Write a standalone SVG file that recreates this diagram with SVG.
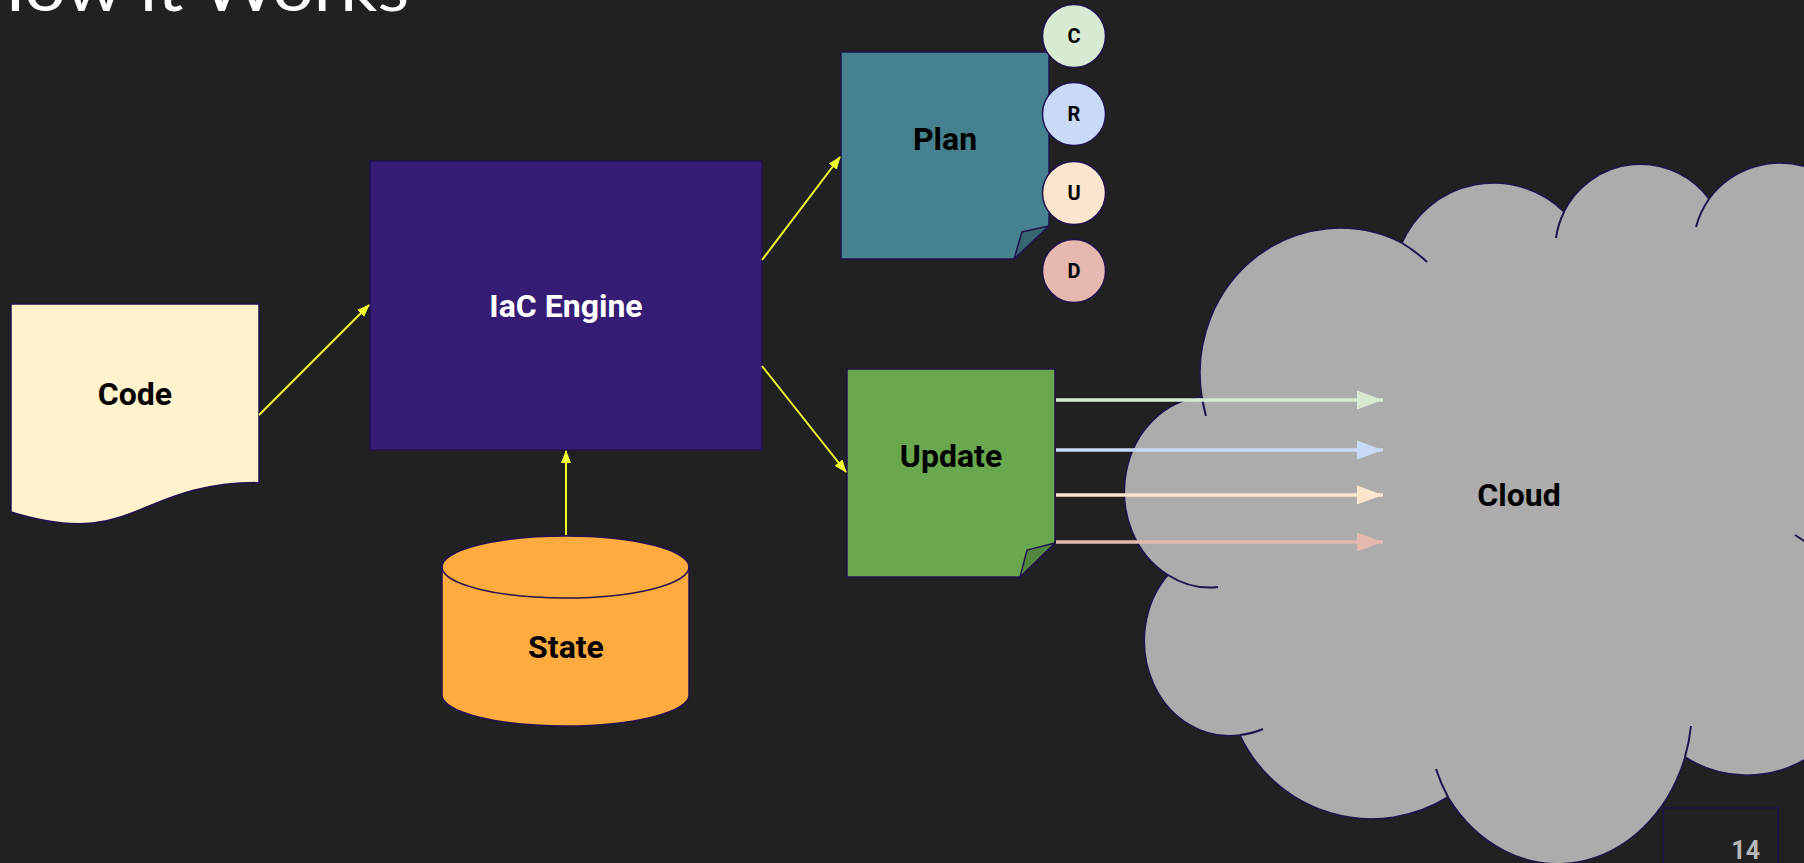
<svg xmlns="http://www.w3.org/2000/svg" width="1804" height="863" viewBox="0 0 1804 863">
  <style>
    .lbl { font-family: Roboto, "Liberation Sans", sans-serif; font-weight: 700; font-size: 32px; text-anchor: middle; fill: #000000; }
    .crud { font-family: Roboto, "Liberation Sans", sans-serif; font-weight: 700; font-size: 20px; text-anchor: middle; fill: #000000; }
    .edge { stroke: #20124d; stroke-width: 1.5; }
    .yl { stroke: #f2ff2e; stroke-width: 2; fill: none; }
    .cl { stroke-width: 3.5; fill: none; }
    .tail { fill: none; stroke: #20124d; stroke-width: 2; }
  </style>
  <defs>
    <marker id="ya" markerUnits="userSpaceOnUse" markerWidth="13" markerHeight="10" refX="12" refY="5" orient="auto">
      <path d="M0,0 L13,5 L0,10 z" fill="#f2ff2e"/>
    </marker>
    <marker id="mc" markerUnits="userSpaceOnUse" markerWidth="26" markerHeight="20" refX="26" refY="10" orient="auto">
      <path d="M0,0.5 L26,10 L0,19.5 z" fill="#d9ead3"/>
    </marker>
    <marker id="mr" markerUnits="userSpaceOnUse" markerWidth="26" markerHeight="20" refX="26" refY="10" orient="auto">
      <path d="M0,0.5 L26,10 L0,19.5 z" fill="#c9daf8"/>
    </marker>
    <marker id="mu" markerUnits="userSpaceOnUse" markerWidth="26" markerHeight="20" refX="26" refY="10" orient="auto">
      <path d="M0,0.5 L26,10 L0,19.5 z" fill="#fce5cd"/>
    </marker>
    <marker id="md" markerUnits="userSpaceOnUse" markerWidth="26" markerHeight="20" refX="26" refY="10" orient="auto">
      <path d="M0,0.5 L26,10 L0,19.5 z" fill="#e6b8af"/>
    </marker>
  </defs>

  <rect x="0" y="0" width="1804" height="863" fill="#212121"/>

  <text id="title" x="-30" y="11" font-family="Lato, 'Open Sans', sans-serif" font-weight="400" font-size="64" fill="#ffffff" textLength="439" lengthAdjust="spacingAndGlyphs">How it Works</text>

  <g id="cloud">
    <path class="edge" fill="#acacac" d="M 1202 397 A 140 145 0 0 1 1402 243 A 100 100 0 0 1 1564 212 A 85 85 0 0 1 1709 199 A 88 88 0 0 1 1868 251 L 1868 659 L 1862 659 A 115 115 0 0 1 1685 757 A 135 160 0 0 1 1448 797 A 145 145 0 0 1 1240 735 A 85 95 0 0 1 1168 575 A 84 95 0 0 1 1202 397 Z"/>
    <path class="tail" d="M 1202 397 A 140 145 0 0 0 1206 416 M 1402 243 A 140 145 0 0 1 1427 262 M 1564 212 A 85 85 0 0 0 1556 238 M 1709 199 A 88 88 0 0 0 1696 227 M 1685 757 A 135 160 0 0 0 1691 726 M 1448 797 A 135 160 0 0 1 1436 769 M 1240 735 A 85 95 0 0 0 1263 729 M 1168 575 A 84 95 0 0 0 1218 587 M 1795 535 L 1812 546"/>
    <text class="lbl" x="1519" y="506">Cloud</text>
  </g>

  <g id="code">
    <path class="edge" fill="#fff2cc" d="M 11 304 L 259 304 L 259 482.6 C 135 482.6 135 550.6 11 512 Z"/>
    <text class="lbl" x="135" y="405">Code</text>
  </g>

  <g id="engine">
    <rect class="edge" x="370" y="161" width="392" height="289" fill="#351c75"/>
    <text class="lbl" x="566" y="317" style="fill:#ffffff">IaC Engine</text>
  </g>

  <g id="plan">
    <path class="edge" fill="#45818e" d="M 841 52 L 1049 52 L 1049 226 L 1014 259 L 841 259 Z"/>
    <path class="edge" fill="#37676f" d="M 1049 226 L 1022 232 L 1014 259 Z"/>
    <text class="lbl" x="945" y="150">Plan</text>
  </g>

  <g id="update">
    <path class="edge" fill="#6aa84f" d="M 847 369 L 1055 369 L 1055 543 L 1020 577 L 847 577 Z"/>
    <path class="edge" fill="#55863f" d="M 1055 543 L 1027 550 L 1020 577 Z"/>
    <text class="lbl" x="951" y="467">Update</text>
  </g>

  <g id="state">
    <path class="edge" fill="#ffab40" d="M 442 567 L 442 695 A 123.5 31 0 0 0 689 695 L 689 567 A 123.5 31 0 0 0 442 567 Z"/>
    <path class="edge" fill="none" d="M 442 567 A 123.5 31 0 0 0 689 567"/>
    <text class="lbl" x="566" y="658">State</text>
  </g>

  <g id="crud-c">
    <circle class="edge" cx="1074" cy="36" r="31.5" fill="#d9ead3"/>
    <text class="crud" x="1074" y="43">C</text>
  </g>
  <g id="crud-r">
    <circle class="edge" cx="1074" cy="114" r="31.5" fill="#c9daf8"/>
    <text class="crud" x="1074" y="121">R</text>
  </g>
  <g id="crud-u">
    <circle class="edge" cx="1074" cy="193" r="31.5" fill="#fce5cd"/>
    <text class="crud" x="1074" y="200">U</text>
  </g>
  <g id="crud-d">
    <circle class="edge" cx="1074" cy="271" r="31.5" fill="#e6b8af"/>
    <text class="crud" x="1074" y="278">D</text>
  </g>

  <g id="connectors">
    <line class="yl" x1="259" y1="415" x2="369" y2="305" marker-end="url(#ya)"/>
    <line class="yl" x1="762" y1="260" x2="840" y2="157" marker-end="url(#ya)"/>
    <line class="yl" x1="762" y1="366" x2="846" y2="472" marker-end="url(#ya)"/>
    <line class="yl" x1="566" y1="535" x2="566" y2="451" marker-end="url(#ya)"/>
    <line class="cl" stroke="#d9ead3" x1="1056" y1="400" x2="1383" y2="400" marker-end="url(#mc)"/>
    <line class="cl" stroke="#c9daf8" x1="1056" y1="450" x2="1383" y2="450" marker-end="url(#mr)"/>
    <line class="cl" stroke="#fce5cd" x1="1056" y1="495" x2="1383" y2="495" marker-end="url(#mu)"/>
    <line class="cl" stroke="#e6b8af" x1="1056" y1="542" x2="1383" y2="542" marker-end="url(#md)"/>
  </g>

  <g id="page-number">
    <rect x="1663" y="808" width="115" height="80" fill="none" stroke="#20124d" stroke-width="1.5"/>
    <text x="1760" y="859" font-family="Roboto, 'Liberation Sans', sans-serif" font-weight="700" font-size="25" fill="#b7b7b7" text-anchor="end">14</text>
  </g>
</svg>
